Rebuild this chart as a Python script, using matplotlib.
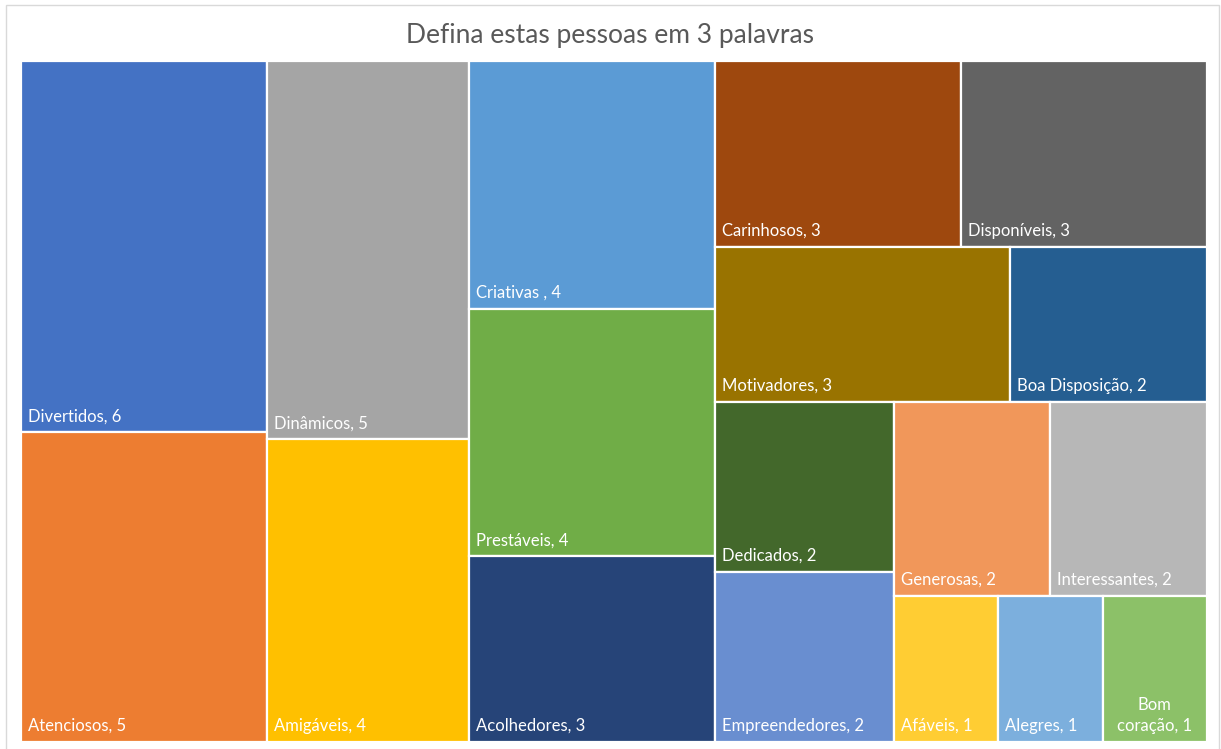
import matplotlib
matplotlib.use("Agg")
import matplotlib.pyplot as plt
from matplotlib.patches import Rectangle

# Words and how many people chose each (descending, ties alphabetical)
categories = [
    "Divertidos", "Atenciosos", "Dinâmicos", "Amigáveis", "Criativas ",
    "Prestáveis", "Acolhedores", "Carinhosos", "Disponíveis", "Motivadores",
    "Boa Disposição", "Dedicados", "Empreendedores", "Generosas",
    "Interessantes", "Afáveis", "Alegres", "Bom coração",
]
values = [6, 5, 5, 4, 4, 4, 3, 3, 3, 3, 2, 2, 2, 2, 2, 1, 1, 1]
colors = [
    "#4472C4", "#ED7D31", "#A5A5A5", "#FFC000", "#5B9BD5", "#70AD47",
    "#264478", "#9E480E", "#636363", "#997300", "#255E91", "#43682B",
    "#698ED0", "#F1975A", "#B7B7B7", "#FFCD33", "#7CAFDD", "#8CC168",
]
title = "Defina estas pessoas em 3 palavras"

FIG_W, FIG_H = 1221, 749
PLOT_W, PLOT_H = 1186, 681
ELONGATION = 1.18  # preferred length/thickness of a tile inside its strip


def strip_cost(row, side):
    thickness = sum(row) / side
    worst = 0.0
    for a in row:
        e = (a / thickness) / thickness
        worst = max(worst, e / ELONGATION, ELONGATION / e)
    return worst


def squarify(vals, x, y, w, h):
    total = sum(vals)
    areas = [v * w * h / total for v in vals]
    rects = []
    i = 0
    while i < len(areas):
        vertical = w >= h
        side = h if vertical else w
        row = [areas[i]]
        cost = strip_cost(row, side)
        j = i + 1
        while j < len(areas):
            c = strip_cost(row + [areas[j]], side)
            if c <= cost:
                row.append(areas[j])
                cost = c
                j += 1
            else:
                break
        thickness = sum(row) / side
        pos = 0.0
        for a in row:
            length = a / thickness
            if vertical:
                rects.append((x, y + pos, thickness, length))
            else:
                rects.append((x + pos, y, length, thickness))
            pos += length
        if vertical:
            x += thickness
            w -= thickness
        else:
            y += thickness
            h -= thickness
        i = j
    return rects


fig = plt.figure(figsize=(FIG_W / 100, FIG_H / 100), dpi=100)
fig.patch.set_facecolor("white")

# chart frame
fig.add_artist(Rectangle((6 / FIG_W, -0.01), 1213 / FIG_W, 1 - 5 / FIG_H + 0.01,
                         transform=fig.transFigure, fill=False,
                         edgecolor="#D9D9D9", linewidth=1.0))

ax = fig.add_axes([21 / FIG_W, 7 / FIG_H, PLOT_W / FIG_W, PLOT_H / FIG_H])
ax.set_xlim(0, PLOT_W)
ax.set_ylim(PLOT_H, 0)
ax.axis("off")

fig.text(0.5, 1 - 36 / FIG_H, title, ha="center", va="center",
         fontsize=19, color="#595959", family="Lato")

renderer = fig.canvas.get_renderer()
rects = squarify(values, 0, 0, PLOT_W, PLOT_H)
PAD = 7
for (x, y, w, h), name, val, col in zip(rects, categories, values, colors):
    ax.add_patch(Rectangle((x, y), w, h, facecolor=col, edgecolor="white",
                           linewidth=1.6))
    label = f"{name}, {val}"
    t = ax.text(x + PAD, y + h - 11, label, ha="left", va="baseline",
                fontsize=12, color="white", family="Lato")
    tw = t.get_window_extent(renderer).width
    if tw > w - 2 * PAD:
        words = label.split(" ")
        t.set_text(words[0] + "\n" + " ".join(words[1:]))
        t.set_ha("center")
        t.set_multialignment("center")
        t.set_x(x + w / 2)
        t.set_linespacing(1.4)

fig.savefig("out.png", dpi=100, facecolor="white")
